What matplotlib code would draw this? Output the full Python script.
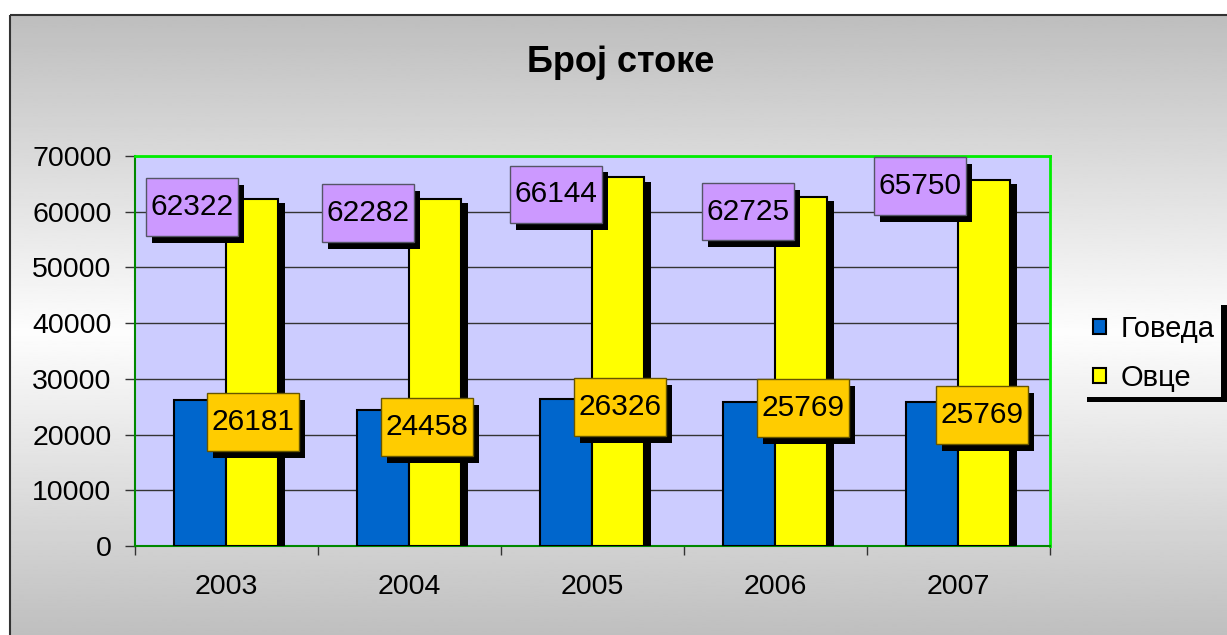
import numpy as np
import matplotlib
matplotlib.use('Agg')
import matplotlib.pyplot as plt
import matplotlib.patheffects as pe
from matplotlib.path import Path
from matplotlib.patches import Rectangle

years = ['2003', '2004', '2005', '2006', '2007']
goveda = [26181, 24458, 26326, 25769, 25769]
ovce = [62322, 62282, 66144, 62725, 65750]
series_names = ['Говеда', 'Овце']
title = 'Број стоке'

# label offsets in pixels from the top of each bar (moved by hand)
ovce_lbl_off = [(-60, -8), (-67, -14), (-62, -17), (-53, -15), (-64, -6)]
gov_lbl_off = [(53, -22), (44, -17), (54, -8), (54, -6), (50, -13)]

plt.rcParams['font.family'] = ['Liberation Sans', 'DejaVu Sans']

W, H = 1227, 635
fig = plt.figure(figsize=(W / 100, H / 100), dpi=100)
fig.patch.set_facecolor('white')

# grey -> white -> grey backdrop, in pixel coords
bg = fig.add_axes([0, 0, 1, 1], zorder=-10)
ys = np.linspace(15, H, 400)
shade = np.interp(ys, [15, 330, H], [190, 253, 190]) / 255
bg.imshow(shade[:, None], cmap='gray', vmin=0, vmax=1, aspect='auto',
          extent=(10, W + 5, H + 5, 15), interpolation='bilinear')
bg.add_patch(Rectangle((10, 15), W, H, fill=False, ec='#333333', lw=1.5))
# legend shadow
bg.add_patch(Rectangle((1221, 305), 6, 97, fc='black', ec='none'))
bg.add_patch(Rectangle((1087, 397), 140, 5, fc='black', ec='none'))
bg.set_xlim(0, W)
bg.set_ylim(H, 0)
bg.axis('off')

fig.text(621 / W, 1 - 72 / H, title, ha='center', va='baseline',
         fontsize=26, fontweight='bold')

ax = fig.add_axes([135 / W, 1 - 546 / H, 915 / W, 390 / H])
ax.set_facecolor('#CCCCFF')

x = np.arange(len(years))
w = 0.285
shadow = [pe.SimplePatchShadow(offset=(5, -3), shadow_rgbFace='black', alpha=1.0),
          pe.Normal()]
b1 = ax.bar(x - 0.145, goveda, w, color='#0066CC', edgecolor='black', lw=1.5,
            zorder=3)
b2 = ax.bar(x + 0.1375, ovce, w, color='#FFFF00', edgecolor='black', lw=1.5,
            zorder=3)
for p in list(b1) + list(b2):
    p.set_path_effects(shadow)


def label_box(x0, y0, width, height, mutation_size):
    px, py = 0.15 * mutation_size, 0.5 * mutation_size
    return Path([(x0 - px, y0 - py), (x0 + width + px, y0 - py),
                 (x0 + width + px, y0 + height + py), (x0 - px, y0 + height + py),
                 (x0 - px, y0 - py)], closed=True)


box_shadow = [pe.SimplePatchShadow(offset=(4.5, -5), shadow_rgbFace='black', alpha=1.0),
              pe.Normal()]


def put_label(xv, yv, off, fc, ec):
    t = ax.annotate(str(yv), (xv, yv), xytext=off, textcoords='offset pixels',
                    ha='center', va='center', fontsize=21.5, zorder=6,
                    bbox=dict(boxstyle=label_box, fc=fc, ec=ec, lw=1))
    t.get_bbox_patch().set_path_effects(box_shadow)


for i in range(len(years)):
    put_label(x[i] + 0.1375, ovce[i], ovce_lbl_off[i], '#CC99FF', '#555566')
    put_label(x[i] - 0.145, goveda[i], gov_lbl_off[i], '#FFCC00', '#665500')

ax.set_xlim(-0.5, len(years) - 0.5)
ax.set_ylim(0, 70000)
ax.set_yticks(np.arange(0, 70001, 10000))
ax.yaxis.grid(True, color='#333333', lw=1)
ax.set_axisbelow(True)
ax.tick_params(axis='y', length=7, width=1, color='#333333', pad=10,
               labelsize=20.5)

ax.set_xticks(np.arange(-0.5, len(years)), labels=[])
ax.set_xticks(x, labels=years, minor=True)
ax.tick_params(axis='x', which='major', length=6.5, width=1, color='#333333')
ax.tick_params(axis='x', which='minor', length=0, pad=20, labelsize=20.5)

for s in ('top', 'right'):
    ax.spines[s].set_color('#00EE00')
    ax.spines[s].set_linewidth(2)
for s in ('left', 'bottom'):
    ax.spines[s].set_color('#008800')
    ax.spines[s].set_linewidth(1.5)

handles = [Rectangle((0, 0), 1, 1, fc='#0066CC', ec='black', lw=1.5),
           Rectangle((0, 0), 1, 1, fc='#FFFF00', ec='black', lw=1.5)]
ax.legend(handles, series_names, loc='upper left',
          bbox_to_anchor=(1093 / W, 1 - 315 / H), bbox_transform=fig.transFigure,
          frameon=False, fontsize=21, handlelength=0.45, handleheight=0.45,
          handletextpad=0.5, labelspacing=0.72, borderpad=0, borderaxespad=0)

fig.savefig('out.png', dpi=100)
